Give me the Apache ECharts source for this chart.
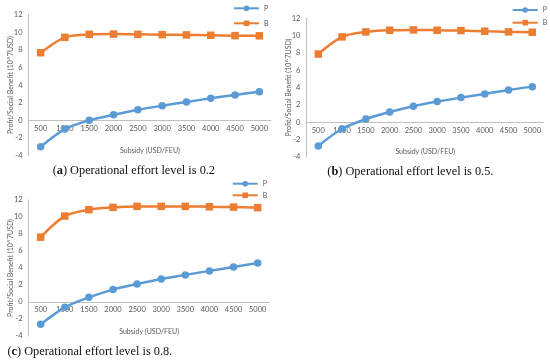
<!DOCTYPE html>
<html>
<head>
<meta charset="utf-8">
<script src="https://cdn.jsdelivr.net/npm/echarts@6/dist/echarts.min.js"></script>
<style>
html,body{margin:0;padding:0;background:#fff;}
#chart{width:550px;height:362px;}
</style>
</head>
<body>
<div id="chart"></div>
<script>
var subsidy = ['500','1000','1500','2000','2500','3000','3500','4000','4500','5000'];
var yTicks = [-4, 12, 2]; // min, max, interval

var pA = [-3.0, -1.0, 0.0, 0.62, 1.2, 1.66, 2.08, 2.5, 2.88, 3.25];
var bA = [7.68, 9.43, 9.77, 9.8, 9.77, 9.73, 9.7, 9.66, 9.62, 9.6];

var pB = [-2.75, -0.77, 0.35, 1.16, 1.83, 2.37, 2.83, 3.26, 3.72, 4.1];
var bB = [7.87, 9.85, 10.43, 10.62, 10.66, 10.62, 10.58, 10.5, 10.43, 10.39];

var pC = [-2.63, -0.63, 0.55, 1.46, 2.12, 2.71, 3.19, 3.66, 4.13, 4.6];
var bC = [7.63, 10.11, 10.86, 11.13, 11.25, 11.25, 11.25, 11.2, 11.17, 11.1];

var captions = [
  ['a', ' Operational effort level is 0.2'],
  ['b', ' Operational effort level is 0.5.'],
  ['c', ' Operational effort level is 0.8.']
];

var BLUE = '#5B9BD5', ORANGE = '#ED7D31', AX = '#BFBFBF', LBL = '#595959';
var SANS = 'Lato, "Liberation Sans", sans-serif';

var grids = [
  {left: 28.5, top: 14.7, width: 243, height: 140.8},
  {left: 306.4, top: 18.3, width: 237.8, height: 138.4},
  {left: 28.6, top: 200, width: 241.1, height: 136}
];
// distance (px) from grid bottom up to the zero line
function zeroOffset(g) { return g.height * 4 / 16; }

function xAx(i) {
  var z = zeroOffset(grids[i]);
  return {
    type: 'category', gridIndex: i, data: subsidy, boundaryGap: true,
    axisLine: {show: false, onZero: false},
    axisTick: {show: false},
    axisLabel: {color: LBL, fontSize: 7.5, fontFamily: SANS, margin: -z + 4, interval: 0},
    name: 'Subsidy (USD/FEU)', nameLocation: 'middle', nameGap: -8, nameMoveOverlap: false,
    nameTextStyle: {color: LBL, fontSize: 7, fontFamily: SANS, verticalAlign: 'top'}
  };
}
function yAx(i) {
  return {
    type: 'value', gridIndex: i, min: yTicks[0], max: yTicks[1], interval: yTicks[2],
    axisLine: {show: true, lineStyle: {color: AX, width: 1}},
    axisTick: {show: false},
    splitLine: {show: false},
    axisLabel: {color: LBL, fontSize: 7.5, fontFamily: SANS, margin: 6},
    name: 'Profit/Social Benefit (10^7USD)', nameLocation: 'middle', nameGap: 14, nameMoveOverlap: false,
    nameTextStyle: {color: LBL, fontSize: 7, fontFamily: SANS}
  };
}
function ser(name, data, i, color, symbol) {
  var s = {
    name: name, type: 'line', xAxisIndex: i, yAxisIndex: i, data: data,
    smooth: 0.3, symbol: symbol, symbolSize: 7.5,
    itemStyle: {color: color}, lineStyle: {color: color, width: 2.5},
    z: name === 'P' ? 3 : 2
  };
  if (name === 'P') {
    s.markLine = {
      silent: true, symbol: 'none', label: {show: false},
      lineStyle: {color: AX, width: 1, type: 'solid'},
      data: [{yAxis: 0}], z: 1
    };
  }
  return s;
}
function leg(left, top, gap) {
  return {
    orient: 'vertical', left: left, top: top, itemWidth: 25, itemHeight: 7,
    itemGap: gap, itemTextGap: 3, padding: 0, selectedMode: false,
    data: ['P', 'B'],
    textStyle: {color: LBL, fontSize: 7, fontFamily: SANS}
  };
}
function cap(i, left, top) {
  return {
    left: left, top: top, padding: 0,
    text: '{p|(}{b|' + captions[i][0] + '}{p|)' + captions[i][1] + '}',
    textStyle: {
      fontWeight: 'normal',
      rich: {
        p: {fontFamily: '"Liberation Serif", serif', fontSize: 12.3, fontWeight: 'normal', color: '#111'},
        b: {fontFamily: '"Liberation Serif", serif', fontSize: 12.3, fontWeight: 'bold', color: '#111'}
      }
    }
  };
}

var chart = echarts.init(document.getElementById('chart'), null, {renderer: 'canvas'});
chart.setOption({
  animation: false,
  backgroundColor: '#fff',
  grid: grids,
  xAxis: [xAx(0), xAx(1), xAx(2)],
  yAxis: [yAx(0), yAx(1), yAx(2)],
  legend: [leg(233, 4.8, 8), leg(511.7, 6.5, 5.7), leg(231.7, 180.2, 4.6)],
  title: [cap(0, 52.7, 164.5), cap(1, 327.3, 166), cap(2, 7.5, 345.5)],
  series: [
    ser('P', pA, 0, BLUE, 'circle'), ser('B', bA, 0, ORANGE, 'rect'),
    ser('P', pB, 1, BLUE, 'circle'), ser('B', bB, 1, ORANGE, 'rect'),
    ser('P', pC, 2, BLUE, 'circle'), ser('B', bC, 2, ORANGE, 'rect')
  ]
});
</script>
</body>
</html>
